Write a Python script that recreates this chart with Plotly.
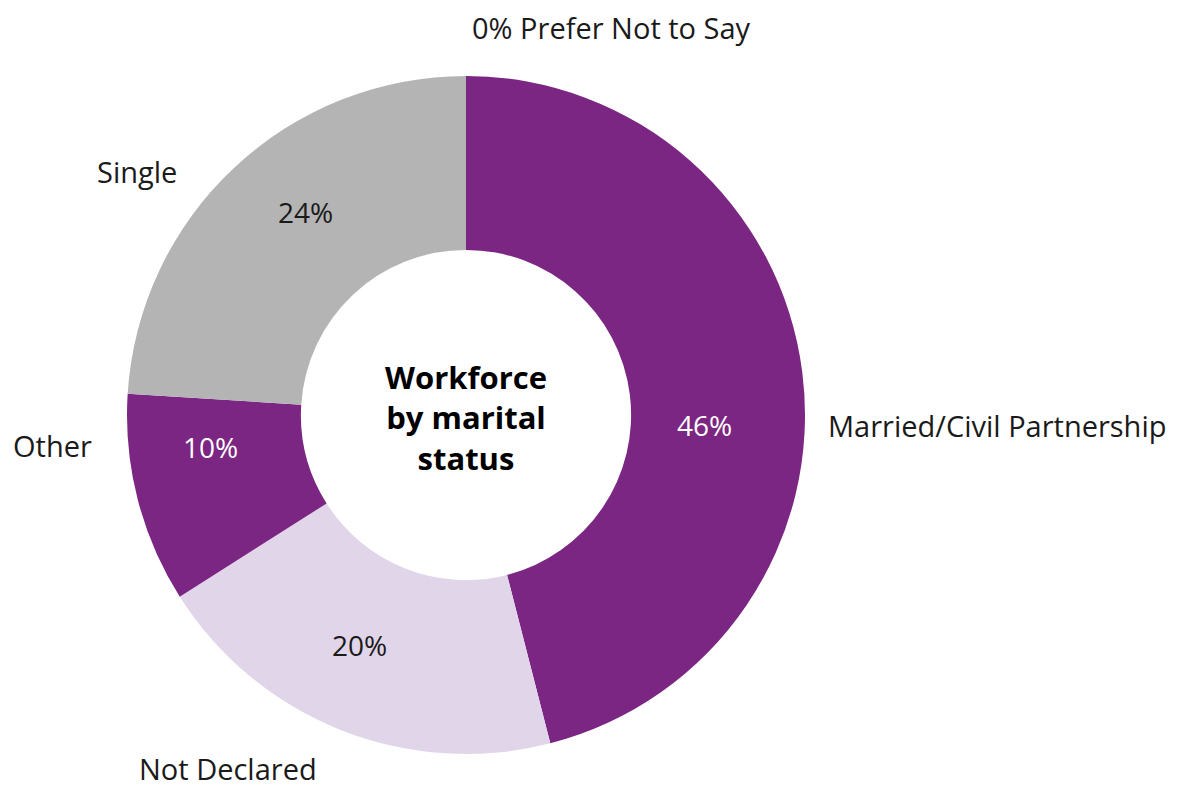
import plotly.graph_objects as go

# data
categories = ["Married/Civil Partnership", "Not Declared", "Other", "Single", "Prefer Not to Say"]
percentages = [46, 20, 10, 24, 0]
outside_labels = ["Married/Civil Partnership", "Not Declared", "Other", "Single", "0% Prefer Not to Say"]

colors = ["#7B2682", "#E1D5EA", "#7B2682", "#B4B4B4", "#7B2682"]
text_colors = ["#FFFFFF", "#1A1A1A", "#FFFFFF", "#1A1A1A", "#1A1A1A"]
FONT = "Open Sans, Noto Sans, sans-serif"

W, H = 1192, 785
OFF = 8  # page body margin shifts the plot by 8px


def px(x):
    return (x - OFF) / W


def py(y):
    return 1 - (y - OFF) / H


fig = go.Figure()
fig.add_trace(go.Pie(
    labels=categories,
    values=percentages,
    textinfo="none",
    hole=0.487,
    sort=False,
    direction="clockwise",
    rotation=0,
    marker=dict(colors=colors, line=dict(width=0)),
    showlegend=False,
    domain=dict(x=[px(127), px(805)], y=[py(754), py(76)]),
))

# percentage labels inside the ring
pct_pos = [(705, 425), (359, 645), (210, 447), (305, 212), None]
for val, col, pos in zip(percentages, text_colors, pct_pos):
    if pos is None:
        continue
    fig.add_annotation(
        x=px(pos[0]), y=py(pos[1]), xref="paper", yref="paper",
        text=f"{val}%", showarrow=False, xanchor="center", yanchor="middle",
        font=dict(family=FONT, size=28, color=col),
    )

# outside category labels
label_pos = [(826, 425, "left"), (228, 768, "center"), (52, 445, "center"),
             (137, 172, "center"), (611, 28, "center")]
for txt, (lx, ly, anchor) in zip(outside_labels, label_pos):
    fig.add_annotation(
        x=px(lx), y=py(ly), xref="paper", yref="paper",
        text=txt, showarrow=False, xanchor=anchor, yanchor="middle",
        font=dict(family=FONT, size=29, color="#1A1A1A"),
    )

# centre title
fig.add_annotation(
    x=px(466), y=py(417), xref="paper", yref="paper",
    text="<b>Workforce<br>by marital<br>status</b>", showarrow=False,
    xanchor="center", yanchor="middle", align="center",
    font=dict(family=FONT, size=31, color="#000000"),
)

fig.update_layout(
    width=W, height=H,
    margin=dict(l=0, r=0, t=0, b=0),
    paper_bgcolor="white",
    plot_bgcolor="white",
)

fig.write_html("out.html")
